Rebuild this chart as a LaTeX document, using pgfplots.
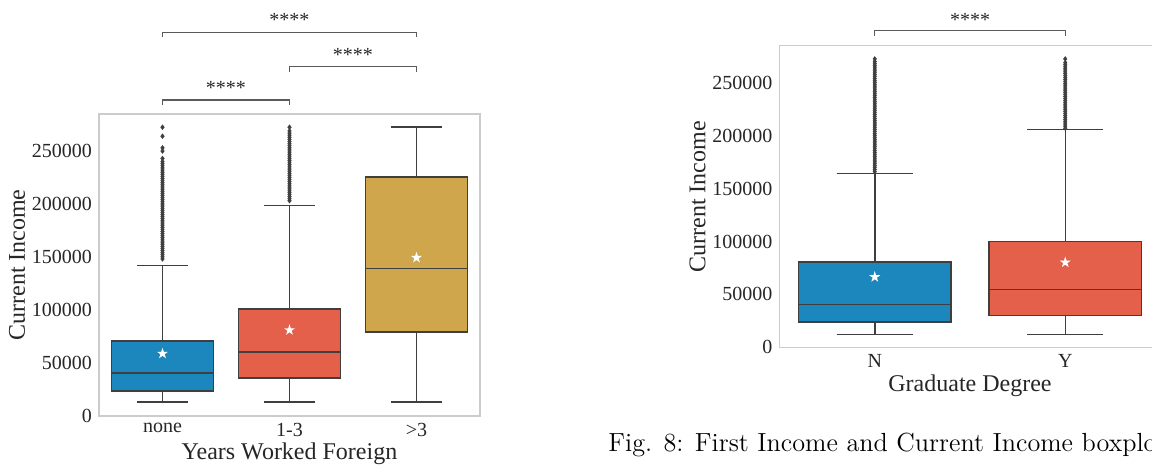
\documentclass[border=0pt]{standalone}
\usepackage{pgfplots}
\pgfplotsset{compat=1.18}
\usepgfplotslibrary{statistics}
\usepackage{fontspec}
\setmainfont{Liberation Serif}
\newfontfamily\lmfont{Latin Modern Roman}
\definecolor{cblue}{RGB}{27,135,189}
\definecolor{cred}{RGB}{228,96,74}
\definecolor{cgold}{RGB}{208,166,76}
\definecolor{boxgray}{RGB}{63,63,63}
\definecolor{framegray}{RGB}{204,204,204}
\definecolor{txt}{RGB}{38,38,38}
\definecolor{brgray}{RGB}{90,90,90}
\pgfdeclareplotmark{fstar}{%
  \pgfpathmoveto{\pgfpointpolar{90}{\pgfplotmarksize}}%
  \pgfpathlineto{\pgfpointpolar{126}{0.382\pgfplotmarksize}}%
  \pgfpathlineto{\pgfpointpolar{162}{\pgfplotmarksize}}%
  \pgfpathlineto{\pgfpointpolar{198}{0.382\pgfplotmarksize}}%
  \pgfpathlineto{\pgfpointpolar{234}{\pgfplotmarksize}}%
  \pgfpathlineto{\pgfpointpolar{270}{0.382\pgfplotmarksize}}%
  \pgfpathlineto{\pgfpointpolar{306}{\pgfplotmarksize}}%
  \pgfpathlineto{\pgfpointpolar{342}{0.382\pgfplotmarksize}}%
  \pgfpathlineto{\pgfpointpolar{18}{\pgfplotmarksize}}%
  \pgfpathlineto{\pgfpointpolar{54}{0.382\pgfplotmarksize}}%
  \pgfpathclose
  \pgfusepathqfill
}
\tikzset{
  br/.style={draw=brgray, line width=0.6pt},
  st/.style={font=\fontsize{10}{12}\selectfont, text=txt},
}
\pgfplotsset{
  sb/.style={
    scale only axis, width=190.5pt, height=151pt,
    axis line style={draw=framegray, line width=0.8pt},
    major tick length=0pt, tick style={draw=none},
    ymin=-400, ymax=285000,
    ytick={0,50000,100000,150000,200000,250000},
    scaled y ticks=false,
    /pgf/number format/assume math mode=true,
    yticklabel style={/pgf/number format/fixed, /pgf/number format/set thousands separator={}},
    ticklabel style={font=\fontsize{10}{12}\selectfont, text=txt},
    label style={font=\fontsize{12}{14}\selectfont, text=txt},
    ylabel={Current Income},
    xlabel shift=-3.5pt, ylabel shift=-3.5pt,
    clip=false,
    boxplot/draw direction=y,
  },
  bx/.style={draw=boxgray, line width=0.75pt, solid, mark=diamond*,
    mark size=1.2pt, mark options={fill=boxgray, draw=boxgray, line width=0.2pt},
    boxplot/box extend=0.8, boxplot/whisker extend=0.4,
    boxplot/every whisker/.style={line width=0.75pt},
    boxplot/every median/.style={line width=0.75pt}},
  mn/.style={only marks, mark=fstar, mark size=2.9pt, color=white},
}
\begin{document}
\begin{tikzpicture}
\useasboundingbox (0,0) rectangle (576pt,232.5pt);
\clip (0,0) rectangle (576pt,232.5pt);
% ---------------- left axis
\begin{axis}[sb, at={(49.5pt,24.5pt)}, anchor=south west,
  xmin=-0.5, xmax=2.5, xtick={0,1,2}, xticklabels={none,1-3,\textgreater 3},
  xlabel={Years Worked Foreign}]
\addplot+[bx, fill=cblue, boxplot prepared={draw position=0,
  lower whisker=12600, lower quartile=23100, median=40200,
  upper quartile=70500, upper whisker=141600}]
  table[row sep=\\, y index=0] {v\\ 148000\\ 150000\\ 152000\\ 154000\\ 156000\\ 158000\\ 160000\\ 162000\\ 164000\\ 166000\\ 168000\\ 170000\\ 172000\\ 174000\\ 176000\\ 178000\\ 180000\\ 182000\\ 184000\\ 186000\\ 188000\\ 190000\\ 192000\\ 194000\\ 196000\\ 198000\\ 200000\\ 202000\\ 204000\\ 206000\\ 208000\\ 210000\\ 212000\\ 214000\\ 216000\\ 218000\\ 220000\\ 222000\\ 224000\\ 226000\\ 228000\\ 230000\\ 232000\\ 234000\\ 236000\\ 238000\\ 240000\\ 243000\\ 250000\\ 253000\\ 264000\\ 272500\\};
\addplot+[bx, fill=cred, boxplot prepared={draw position=1,
  lower whisker=12600, lower quartile=35500, median=60200,
  upper quartile=100800, upper whisker=198700}]
  table[row sep=\\, y index=0] {v\\ 203000\\ 205000\\ 207000\\ 209000\\ 211000\\ 213000\\ 215000\\ 217000\\ 219000\\ 221000\\ 223000\\ 225000\\ 227000\\ 229000\\ 231000\\ 233000\\ 235000\\ 237000\\ 239000\\ 241000\\ 243000\\ 245000\\ 247000\\ 249000\\ 251000\\ 253000\\ 255000\\ 257000\\ 259000\\ 261000\\ 263000\\ 265000\\ 267000\\ 269000\\ 272500\\};
\addplot+[bx, fill=cgold, boxplot prepared={draw position=2,
  lower whisker=12600, lower quartile=78900, median=138800,
  upper quartile=225300, upper whisker=272500}]
  coordinates {};
\addplot[mn] coordinates {(0,58600) (1,80800) (2,149200)};
% significance brackets
\draw[br] (axis cs:0,293500) -- (axis cs:0,298200) -- (axis cs:1,298200) -- (axis cs:1,293500);
\node[st] at (axis cs:0.5,309400) {****};
\draw[br] (axis cs:1,324900) -- (axis cs:1,329700) -- (axis cs:2,329700) -- (axis cs:2,324900);
\node[st] at (axis cs:1.5,340900) {****};
\draw[br] (axis cs:0,357800) -- (axis cs:0,362200) -- (axis cs:2,362200) -- (axis cs:2,357800);
\node[st] at (axis cs:1,374300) {****};
\end{axis}
% ---------------- right axis
\begin{axis}[sb, at={(389.75pt,58.65pt)}, anchor=south west,
  xmin=-0.5, xmax=1.5, xtick={0,1}, xticklabels={N,Y},
  xlabel={Graduate Degree}]
\addplot+[bx, fill=cblue, boxplot prepared={draw position=0,
  lower whisker=12100, lower quartile=24100, median=40500,
  upper quartile=80600, upper whisker=164200}]
  table[row sep=\\, y index=0] {v\\ 166000\\ 168000\\ 170000\\ 172000\\ 174000\\ 176000\\ 178000\\ 180000\\ 182000\\ 184000\\ 186000\\ 188000\\ 190000\\ 192000\\ 194000\\ 196000\\ 198000\\ 200000\\ 202000\\ 204000\\ 206000\\ 208000\\ 210000\\ 212000\\ 214000\\ 216000\\ 218000\\ 220000\\ 222000\\ 224000\\ 226000\\ 228000\\ 230000\\ 232000\\ 234000\\ 236000\\ 238000\\ 240000\\ 242000\\ 244000\\ 246000\\ 248000\\ 250000\\ 252000\\ 254000\\ 256000\\ 258000\\ 260000\\ 262000\\ 264000\\ 266000\\ 268000\\ 270000\\ 272500\\};
\addplot+[bx, fill=cred, boxplot prepared={draw position=1,
  lower whisker=12100, lower quartile=30100, median=54400,
  upper quartile=100100, upper whisker=205800}]
  table[row sep=\\, y index=0] {v\\ 207000\\ 209000\\ 211000\\ 213000\\ 215000\\ 217000\\ 219000\\ 221000\\ 223000\\ 225000\\ 227000\\ 229000\\ 231000\\ 233000\\ 235000\\ 237000\\ 239000\\ 241000\\ 243000\\ 245000\\ 247000\\ 249000\\ 251000\\ 253000\\ 255000\\ 257000\\ 259000\\ 261000\\ 263000\\ 265000\\ 267000\\ 269000\\ 272500\\};
\addplot[mn] coordinates {(0,66400) (1,80200)};
\draw[br] (axis cs:0,294200) -- (axis cs:0,299200) -- (axis cs:1,299200) -- (axis cs:1,294200);
\node[st] at (axis cs:0.5,309200) {****};
\end{axis}
\node[anchor=base west, inner sep=0pt, font=\lmfont\fontsize{13.1}{16}\selectfont] at (304pt,6.5pt)
  {Fig. 8: First Income and Current Income boxplots};
\end{tikzpicture}
\end{document}
